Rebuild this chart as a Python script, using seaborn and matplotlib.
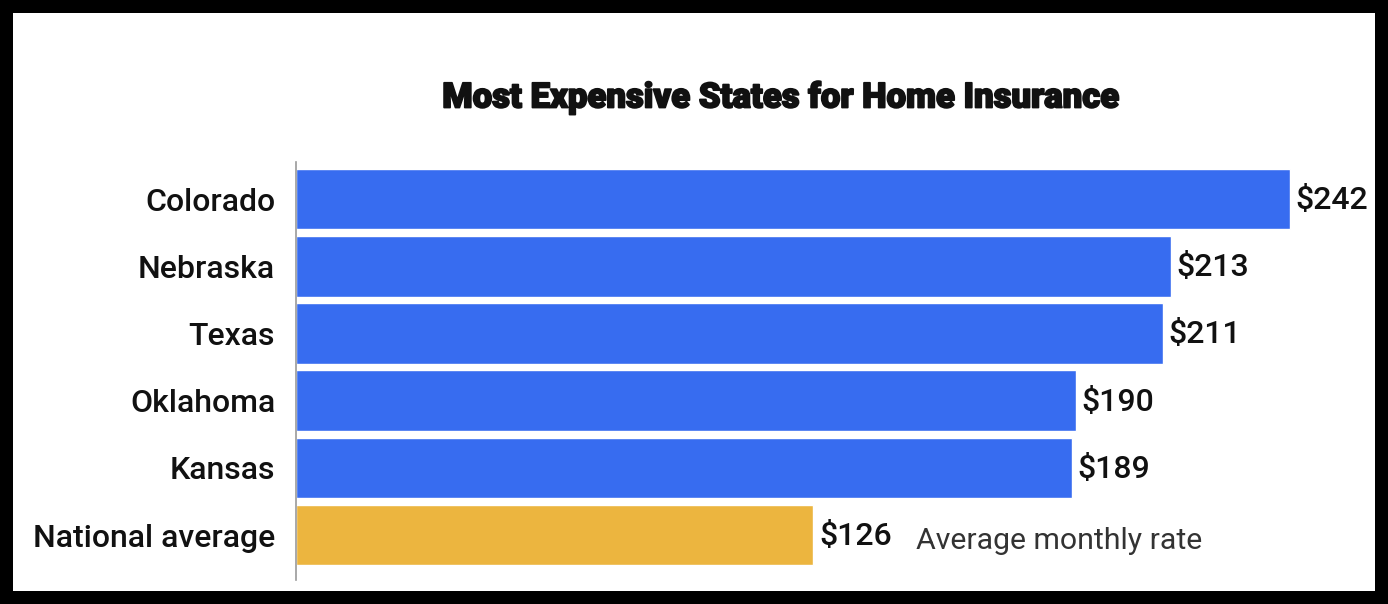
import matplotlib
matplotlib.use("Agg")
import matplotlib.pyplot as plt
import matplotlib.patheffects as pe
import seaborn as sns
import pandas as pd

states = ["Colorado", "Nebraska", "Texas", "Oklahoma", "Kansas", "National average"]
rates = [242, 213, 211, 190, 189, 126]
colors = ["#376CF0", "#376CF0", "#376CF0", "#376CF0", "#376CF0", "#ECB53F"]
title = "Most Expensive States for Home Insurance"
note = "Average monthly rate"

sns.set_theme(style="white")
plt.rcParams["font.family"] = ["Roboto", "DejaVu Sans"]

df = pd.DataFrame({"state": states, "rate": rates})

fig = plt.figure(figsize=(13.88, 6.04), dpi=100)
fig.patch.set_facecolor("white")
fig.patch.set_edgecolor("black")
fig.patch.set_linewidth(17.5)

ax = fig.add_axes([296 / 1388, 1 - 580 / 604, 0.7678, 418 / 604])
sns.barplot(data=df, y="state", x="rate", hue="state", palette=colors,
            legend=False, orient="h", width=0.9, ax=ax, saturation=1)

ax.set_xlim(0, 259.5)
ax.set_ylim(5.67, -0.555)
ax.set_xlabel("")
ax.set_ylabel("")
ax.set_xticks([])
for s in ["top", "right", "bottom"]:
    ax.spines[s].set_visible(False)
ax.spines["left"].set_color("#9a9a9a")
ax.spines["left"].set_linewidth(1.2)
ax.tick_params(axis="y", length=0, pad=15)
for lbl in ax.get_yticklabels():
    lbl.set_fontsize(23)
    lbl.set_fontweight("medium")
    lbl.set_color("#111111")

for i, v in enumerate(rates):
    ax.annotate(f"${v}", xy=(v, i), xytext=(4, -1), textcoords="offset points",
                ha="left", va="center", fontsize=23, fontweight="medium",
                color="#111111")

ax.annotate(note, xy=(rates[-1], len(rates) - 1), xytext=(74, -4),
            textcoords="offset points", ha="left", va="center",
            fontsize=21.8, color="#333333")

fig.text(781 / 1388, 1 - 98 / 604, title, ha="center", va="center",
         fontsize=25, fontweight="heavy", color="#111111",
         path_effects=[pe.withStroke(linewidth=1.3, foreground="#111111")])

fig.savefig("out.png", dpi=100, facecolor=fig.get_facecolor(),
            edgecolor=fig.get_edgecolor())
